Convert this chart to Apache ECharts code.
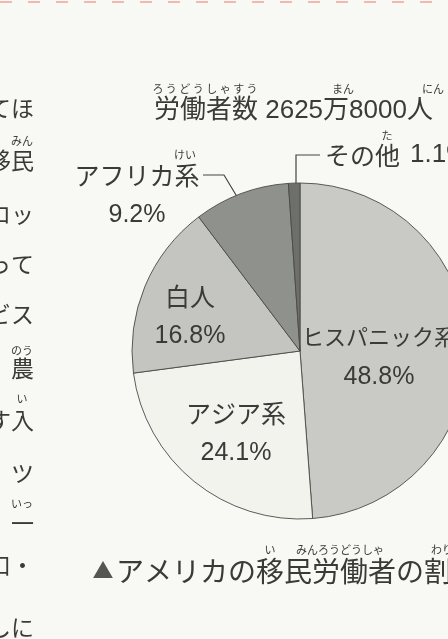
<!DOCTYPE html>
<html><head><meta charset="utf-8">
<script src="https://cdn.jsdelivr.net/npm/echarts@6/dist/echarts.min.js"></script>
<style>html,body{margin:0;padding:0;background:#f8f8f4;}#c{width:448px;height:639px;}</style>
</head><body><div id="c"></div>
<script>
// ---- data ----
const categories = ['ヒスパニック系', 'アジア系', '白人', 'アフリカ系', 'その他'];
const shares = [48.8, 24.1, 16.8, 9.2, 1.1];
const titleText = '労働者数 2625万8000人';
const captionText = 'アメリカの移民労働者の割合';
const sideLines = ['てほ', '移民', 'ロッ', 'って', 'ビス', '農', 'す入', 'ツ', '一', '口・', 'しに'];

// ---- styles / layout ----
const sliceColors = ['#c9cac5', '#f3f3ee', '#c4c5c0', '#8f918c', '#6d6f6a'];
const txt = '#3a3a38';
const JP = '"Noto Sans CJK JP", sans-serif';
const MIX = '"Liberation Sans", "Noto Sans CJK JP", sans-serif';
const labelPos = [
  {x: 379, y: 357, align: 'center'},
  {x: 236, y: 433, align: 'center'},
  {x: 190, y: 316, align: 'center'},
  {x: 137, y: 195, align: 'center'},
  {x: 325, y: 155, align: 'left'}
];
const sideY = [108, 160, 214, 264, 314, 368, 420, 473, 523, 565, 627];

const chart = echarts.init(document.getElementById('c'), null, {renderer: 'canvas'});
const graphics = [];
function t(text, x, y, size, align, family, fill) {
  graphics.push({type: 'text', silent: true, style: {text: text, x: x, y: y, font: size + 'px ' + (family || JP), fill: fill || txt, textAlign: align || 'left', textVerticalAlign: 'middle'}});
}
// top dashed rule
graphics.push({type: 'line', silent: true, shape: {x1: 0, y1: 2, x2: 448, y2: 2}, style: {stroke: '#f1b9b0', lineWidth: 2, lineDash: [12, 16]}});
// side text fragments
sideLines.forEach((s, i) => t(s, 34, sideY[i], 23, 'right'));
t('みん', 22, 141, 11, 'center');
t('のう', 22, 351, 11, 'center');
t('い', 22, 399, 11, 'center');
t('いっ', 22, 504, 11, 'center');
// title + furigana
t(titleText, 154, 111, 26, 'left', MIX);
t('ろ う ど う し ゃ す う', 205, 89, 11, 'center');
t('まん', 343, 89, 11, 'center');
t('にん', 433, 89, 11, 'center');
// slice label furigana
t('けい', 445, 316, 11, 'center');
t('けい', 274, 392, 11, 'center');
t('はくじん', 190, 275, 11, 'center');
t('けい', 185, 155, 11, 'center');
t('た', 387, 136, 11, 'center');
// leader lines
graphics.push({type: 'polyline', silent: true, shape: {points: [[320, 155], [296, 155], [296, 186]]}, style: {stroke: '#444', lineWidth: 1.2, fill: null}});
graphics.push({type: 'polyline', silent: true, shape: {points: [[203, 175], [224, 175], [260, 235]]}, style: {stroke: '#444', lineWidth: 1.2, fill: null}});
// caption
t('▲', 103, 570, 21, 'center', JP, '#55564f');
t(captionText, 116, 571, 28, 'left');
t('い', 270, 550, 11, 'center');
t('みんろうどうしゃ', 340, 550, 11, 'center');
t('わり', 442, 550, 11, 'center');

chart.setOption({
  backgroundColor: '#f8f8f4',
  animation: false,
  series: [{
    type: 'pie',
    center: [300, 351],
    radius: [0, 168],
    startAngle: 90,
    clockwise: true,
    avoidLabelOverlap: false,
    itemStyle: {borderColor: '#4a4a47', borderWidth: 0.9},
    label: {
      show: true,
      position: 'inside',
      color: txt,
      formatter: function (p) {
        if (p.dataIndex === 4) return '{n|' + p.name + '}{o|' + p.value + '%}';
        const nm = p.dataIndex === 0 ? '{h|' + p.name + '}' : '{n|' + p.name + '}';
        return nm + '\n{v|' + p.value.toFixed(1) + '%}';
      },
      rich: {
        n: {fontSize: 25, fontFamily: JP, color: txt, lineHeight: 40},
        h: {fontSize: 22, fontFamily: JP, color: txt, lineHeight: 40},
        v: {fontSize: 25, fontFamily: MIX, color: txt, lineHeight: 40},
        o: {fontSize: 26, fontFamily: MIX, color: txt, lineHeight: 40, padding: [0, 0, 0, 10]}
      }
    },
    labelLine: {show: false},
    labelLayout: function (p) {
      const lp = labelPos[p.dataIndex];
      return {x: lp.x, y: lp.y, align: lp.align, verticalAlign: 'middle'};
    },
    data: categories.map((c, i) => ({name: c, value: shares[i], itemStyle: {color: sliceColors[i]}}))
  }],
  graphic: graphics
});
</script></body></html>
